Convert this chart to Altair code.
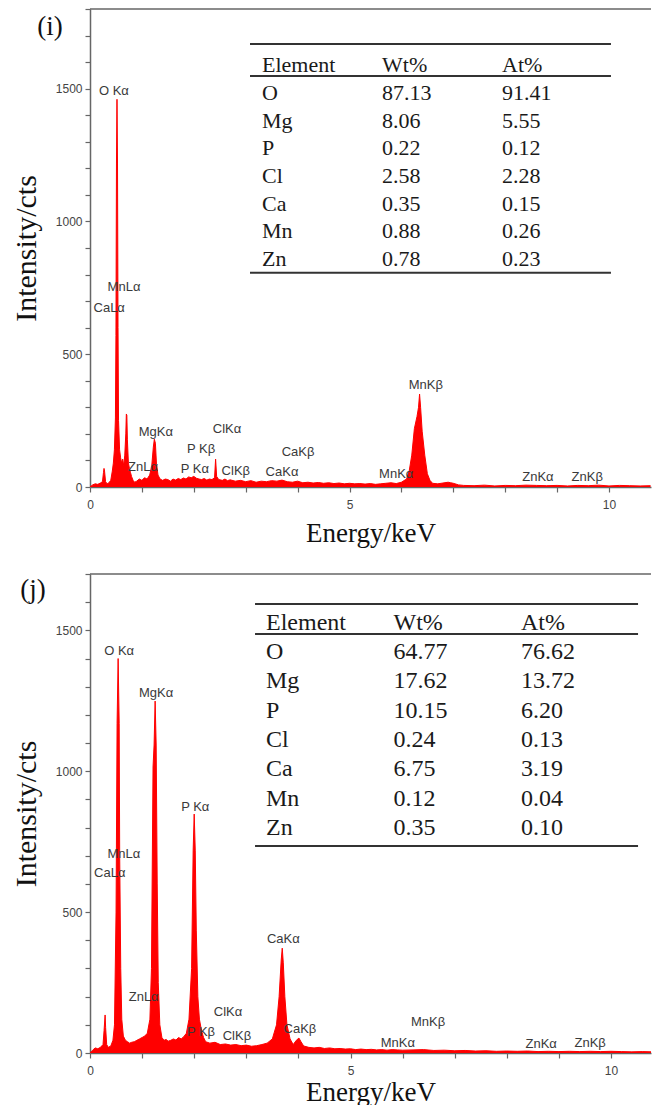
import altair as alt
import pandas as pd

ALPHA = "\u03b1"
BETA = "\u03b2"

# ---------------- Panel (i) spectrum ----------------
i_energy = [0.00, 0.05, 0.10, 0.15, 0.20, 0.24, 0.26, 0.27, 0.28, 0.30, 0.33, 0.36, 0.40, 0.43, 0.45,
            0.47, 0.49, 0.50, 0.51, 0.52, 0.53, 0.54, 0.55, 0.57, 0.59, 0.61, 0.63, 0.65, 0.67, 0.69,
            0.70, 0.71, 0.72, 0.74, 0.76, 0.78, 0.80, 0.83, 0.86, 0.90, 0.95, 1.00, 1.05, 1.10, 1.15,
            1.19, 1.22, 1.24, 1.26, 1.28, 1.31, 1.35, 1.40, 1.45, 1.50, 1.55, 1.60, 1.65, 1.70, 1.75,
            1.80, 1.85, 1.90, 1.95, 2.00, 2.05, 2.10, 2.15, 2.20, 2.25, 2.30, 2.35, 2.40, 2.42, 2.44,
            2.48, 2.55, 2.60, 2.65, 2.70, 2.80, 2.90, 3.00, 3.10, 3.20, 3.30, 3.40, 3.50, 3.60, 3.70,
            3.80, 3.90, 4.00, 4.10, 4.20, 4.30, 4.40, 4.50, 4.60, 4.70, 4.80, 4.90, 5.00, 5.10, 5.20,
            5.30, 5.40, 5.50, 5.60, 5.70, 5.80, 5.90, 6.00, 6.10, 6.15, 6.20, 6.25, 6.30, 6.33, 6.35,
            6.37, 6.40, 6.45, 6.50, 6.55, 6.60, 6.70, 6.80, 6.90, 6.95, 7.00, 7.10, 7.20, 7.40, 7.60,
            7.80, 8.00, 8.20, 8.40, 8.60, 8.80, 9.00, 9.20, 9.40, 9.60, 9.80, 10.00, 10.20, 10.40, 10.60,
            10.80]
i_counts = [0, 8, 12, 10, 15, 20, 55, 70, 60, 20, 12, 15, 25, 60, 90,
            140, 260, 570, 1220, 1460, 1220, 600, 250, 140, 110, 90, 105, 80, 120, 200,
            275, 270, 180, 90, 70, 55, 40, 25, 18, 22, 30, 25, 35, 30, 45,
            80, 150, 180, 165, 90, 45, 30, 25, 30, 28, 22, 30, 26, 32, 28,
            34, 30, 38, 35, 40, 33, 30, 28, 32, 26, 30, 28, 35, 105, 40,
            28, 25, 30, 24, 27, 22, 25, 20, 24, 18, 22, 20, 24, 22, 26,
            20, 18, 22, 16, 18, 15, 17, 14, 16, 13, 15, 12, 14, 12, 13,
            11, 13, 10, 12, 14, 16, 13, 18, 30, 60, 120, 220, 265, 300, 350,
            300, 210, 120, 50, 25, 14, 12, 15, 18, 16, 14, 8, 6, 5, 7,
            4, 6, 5, 7, 6, 5, 6, 4, 6, 5, 7, 4, 6, 5, 4,
            5]

# ---------------- Panel (j) spectrum ----------------
j_energy = [0.00, 0.05, 0.10, 0.15, 0.20, 0.25, 0.27, 0.29, 0.30, 0.32, 0.35, 0.40, 0.44, 0.47, 0.50,
            0.52, 0.54, 0.56, 0.57, 0.59, 0.61, 0.64, 0.68, 0.72, 0.76, 0.80, 0.85, 0.90, 0.95, 1.00,
            1.05, 1.10, 1.15, 1.18, 1.21, 1.23, 1.25, 1.27, 1.29, 1.31, 1.34, 1.38, 1.42, 1.46, 1.50,
            1.55, 1.60, 1.65, 1.70, 1.75, 1.80, 1.85, 1.90, 1.95, 1.98, 2.00, 2.02, 2.04, 2.07, 2.10,
            2.14, 2.18, 2.22, 2.30, 2.40, 2.50, 2.60, 2.70, 2.80, 2.90, 3.00, 3.10, 3.20, 3.30, 3.40,
            3.50, 3.58, 3.63, 3.67, 3.69, 3.71, 3.74, 3.78, 3.84, 3.90, 3.96, 4.01, 4.05, 4.10, 4.20,
            4.30, 4.40, 4.50, 4.60, 4.70, 4.80, 4.90, 5.00, 5.10, 5.20, 5.30, 5.40, 5.50, 5.60, 5.70,
            5.80, 5.90, 6.00, 6.20, 6.40, 6.60, 6.80, 7.00, 7.20, 7.40, 7.60, 7.80, 8.00, 8.20, 8.40,
            8.60, 8.80, 9.00, 9.20, 9.40, 9.60, 9.80, 10.00, 10.20, 10.40, 10.60, 10.80]
j_counts = [0, 10, 18, 15, 20, 30, 80, 135, 90, 30, 20, 25, 45, 100, 500,
            1170, 1400, 1170, 700, 300, 120, 60, 45, 40, 35, 38, 40, 45, 50, 55,
            60, 70, 120, 300, 1015, 1093, 1249, 1093, 600, 250, 100, 55, 45, 48, 42,
            45, 50, 46, 55, 50, 58, 70, 120, 300, 720, 848, 720, 436, 200, 120,
            80, 55, 40, 35, 38, 30, 32, 28, 30, 26, 28, 24, 26, 30, 35,
            50, 100, 200, 330, 372, 320, 200, 100, 50, 30, 45, 53, 40, 25, 20,
            18, 20, 16, 18, 15, 16, 14, 15, 12, 14, 12, 13, 11, 12, 10,
            12, 11, 10, 11, 12, 9, 10, 8, 9, 7, 8, 6, 7, 6, 7,
            5, 6, 5, 6, 5, 6, 5, 6, 5, 4, 5, 4]

# ---------------- Peak labels ----------------
i_lab_text = ["O K" + ALPHA, "MnL" + ALPHA, "CaL" + ALPHA, "MgK" + ALPHA, "ZnL" + ALPHA,
              "P K" + BETA, "P K" + ALPHA, "ClK" + ALPHA, "ClK" + BETA, "CaK" + BETA,
              "CaK" + ALPHA, "MnK" + BETA, "MnK" + ALPHA, "ZnK" + ALPHA, "ZnK" + BETA]
i_lab_e = [0.46, 0.655, 0.37, 1.27, 1.02, 2.14, 2.02, 2.64, 2.81, 4.01, 3.70, 6.47, 5.90, 8.63, 9.58]
i_lab_c = [1491, 753, 674, 207, 75, 143, 68, 218, 60, 132, 56, 384, 49, 38, 38]

j_lab_text = ["O K" + ALPHA, "MgK" + ALPHA, "P K" + ALPHA, "MnL" + ALPHA, "CaL" + ALPHA,
              "ZnL" + ALPHA, "ClK" + ALPHA, "P K" + BETA, "ClK" + BETA, "CaK" + ALPHA,
              "CaK" + BETA, "MnK" + BETA, "MnK" + ALPHA, "ZnK" + ALPHA, "ZnK" + BETA]
j_lab_e = [0.56, 1.27, 2.02, 0.65, 0.38, 1.03, 2.65, 2.13, 2.82, 3.71, 4.03, 6.49, 5.91, 8.66, 9.60]
j_lab_c = [1427, 1277, 873, 706, 638, 199, 145, 75, 60, 405, 85, 110, 35, 32, 35]

# ---------------- Tables ----------------
tbl_header = ["Element", "Wt%", "At%"]
tbl_elements = ["O", "Mg", "P", "Cl", "Ca", "Mn", "Zn"]
i_wt = ["87.13", "8.06", "0.22", "2.58", "0.35", "0.88", "0.78"]
i_at = ["91.41", "5.55", "0.12", "2.28", "0.15", "0.26", "0.23"]
j_wt = ["64.77", "17.62", "10.15", "0.24", "6.75", "0.12", "0.35"]
j_at = ["76.62", "13.72", "6.20", "0.13", "3.19", "0.04", "0.10"]


def table_frame(wt, at):
    rows = []
    for c, h in enumerate(tbl_header):
        rows.append({"row": 0, "col": c, "txt": h})
    for r, (el, w, a) in enumerate(zip(tbl_elements, wt, at), start=1):
        rows.append({"row": r, "col": 0, "txt": el})
        rows.append({"row": r, "col": 1, "txt": w})
        rows.append({"row": r, "col": 2, "txt": a})
    return pd.DataFrame(rows)


def panel(energy, counts, lab_e, lab_c, lab_t, wt, at, xmax, ymax, W, H,
          tcol_range, trow_range, rule_rows, rule_x, tfs, tag, tag_xy, xtitle_pad):
    spec = pd.DataFrame({"E": energy, "C": counts})
    labs = pd.DataFrame({"E": lab_e, "C": lab_c, "label": lab_t})
    xs = alt.Scale(domain=[0, xmax], nice=False, zero=False)
    ys = alt.Scale(domain=[0, ymax], nice=False)
    xaxis = alt.Axis(values=list(range(0, 11)), format="d",
                     labelExpr="datum.value % 5 === 0 ? datum.label : ''",
                     title="Energy/keV", titlePadding=xtitle_pad, labelFlush=False)
    yaxis = alt.Axis(values=list(range(0, ymax + 1, 100)), format="d",
                     labelExpr="datum.value % 500 === 0 ? datum.label : ''",
                     title="Intensity/cts")
    X = alt.X("E:Q", scale=xs, axis=xaxis)
    Y = alt.Y("C:Q", scale=ys, axis=yaxis)
    area = alt.Chart(spec).mark_area(color="#ff0000", interpolate="linear", clip=True).encode(x=X, y=Y)
    line = alt.Chart(spec).mark_line(color="#ff0000", strokeWidth=1, clip=True).encode(x=X, y=Y)
    text = alt.Chart(labs).mark_text(font="Liberation Sans", fontSize=13, color="#3a3a3a",
                                     align="center", baseline="middle").encode(
        x=X, y=Y, text="label:N")
    spectrum = alt.layer(area, line, text)

    tx = alt.Scale(domain=[0, 2], range=tcol_range)
    ty = alt.Scale(domain=[1, 7], range=trow_range)
    tdf = table_frame(wt, at)
    rdf = pd.DataFrame({"row": rule_rows, "x1": [rule_x[0]] * 3, "x2": [rule_x[1]] * 3})
    ttext = alt.Chart(tdf).mark_text(font="Liberation Serif", fontSize=tfs, color="#1a1a1a",
                                     align="left", baseline="middle").encode(
        x=alt.X("col:Q", scale=tx, axis=None),
        y=alt.Y("row:Q", scale=ty, axis=None),
        text="txt:N")
    trules = alt.Chart(rdf).mark_rule(color="#333333", strokeWidth=2).encode(
        x=alt.X("x1:Q", scale=tx, axis=None),
        x2="x2:Q",
        y=alt.Y("row:Q", scale=ty, axis=None))
    tagc = alt.Chart(pd.DataFrame({"t": [tag]})).mark_text(
        font="Liberation Serif", fontSize=27, color="#111111", align="center", baseline="middle").encode(
        x=alt.value(tag_xy[0]), y=alt.value(tag_xy[1]), text="t:N")
    frame = alt.Chart(pd.DataFrame({"t": [tag]})).mark_rule(color="#666666", strokeWidth=1.5).encode(
        x=alt.value(0), x2=alt.value(W), y=alt.value(0))
    table = alt.layer(trules, ttext, tagc, frame)

    return alt.layer(spectrum, table).resolve_scale(x="independent", y="independent").properties(
        width=W, height=H)


W = 561
top = panel(i_energy, i_counts, i_lab_e, i_lab_c, i_lab_text, i_wt, i_at,
            xmax=W / 51.9, ymax=1800, W=W, H=478,
            tcol_range=[172, 412], trow_range=[84, 250],
            rule_rows=[-0.77, 0.386, 7.5], rule_x=[-0.1, 2.908], tfs=22,
            tag="(i)", tag_xy=[-40, 18], xtitle_pad=10)
bottom = panel(j_energy, j_counts, j_lab_e, j_lab_c, j_lab_text, j_wt, j_at,
               xmax=W / 52.1, ymax=1700, W=W, H=479,
               tcol_range=[176, 431], trow_range=[78, 254],
               rule_rows=[-0.636, 0.386, 7.61], rule_x=[-0.086, 2.918], tfs=24,
               tag="(j)", tag_xy=[-57, 16], xtitle_pad=3)

chart = alt.vconcat(top, bottom, spacing=27).properties(
    padding={"left": 11, "top": 8, "right": 0, "bottom": 0}
).configure_view(stroke=None).configure_axis(
    domainColor="#666666", domainWidth=1.5, tickColor="#666666", tickWidth=1.2, tickSize=5,
    labelFont="Liberation Sans", labelFontSize=12, labelColor="#444444",
    titleFont="Liberation Serif", titleFontWeight="normal", titleColor="#111111", grid=False
).configure_axisX(titleFontSize=27, labelPadding=7).configure_axisY(
    titleFontSize=30, labelPadding=3, titlePadding=14)

chart.save("out.html", embed_options={"renderer": "svg", "actions": False})
